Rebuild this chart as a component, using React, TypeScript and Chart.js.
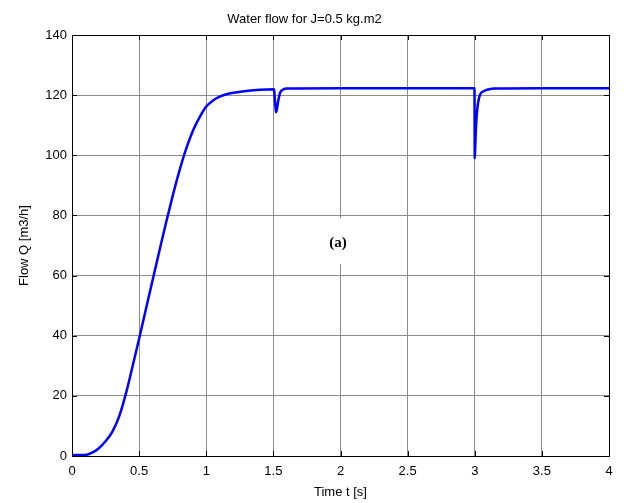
import React, { useEffect, useRef } from "react";
import { Chart, registerables } from "chart.js";

Chart.register(...registerables);

const timeS = [
  0, 0.05, 0.1, 0.15, 0.2, 0.25, 0.3, 0.35, 0.4, 0.45, 0.5, 0.55, 0.6, 0.65, 0.7, 0.75, 0.8, 0.85, 0.9, 0.95,
  1.0, 1.05, 1.1, 1.15, 1.2, 1.3, 1.4, 1.5, 1.505, 1.512, 1.52, 1.527, 1.537, 1.55, 1.575, 1.6, 2.0, 2.5,
  2.998, 3.0, 3.003, 3.008, 3.015, 3.025, 3.04, 3.07, 3.1, 3.15, 3.5, 4.0,
];
const flowQ = [
  0.3, 0.3, 0.35, 1.1, 2.6, 4.9, 8.0, 13.0, 20.5, 29.6, 39.0, 48.7, 58.4, 68.0, 77.5, 86.5, 94.8, 102.1, 108.1, 112.6,
  116.2, 118.2, 119.5, 120.3, 120.8, 121.4, 121.8, 122.0, 121.9, 118, 114.3, 115.5, 118.3, 120.8, 121.9, 122.2, 122.3, 122.3,
  122.3, 99, 102, 108, 113.5, 117.5, 120.2, 121.4, 121.9, 122.2, 122.3, 122.3,
];
const xTickValues = [0, 0.5, 1, 1.5, 2, 2.5, 3, 3.5, 4];
const xTickLabels = ["0", "0.5", "1", "1.5", "2", "2.5", "3", "3.5", "4"];
const yTickValues = [0, 20, 40, 60, 80, 100, 120, 140];
const yTickLabels = ["0", "20", "40", "60", "80", "100", "120", "140"];
const titleText = "Water flow for J=0.5 kg.m2";
const xLabel = "Time t [s]";
const yLabel = "Flow Q [m3/h]";
const annotationText = "(a)";
const annotationPos = { x: 1.981, y: 70.8 };

const FONT = "'Liberation Sans', Arial, sans-serif";

const framePlugin = {
  id: "matlabFrame",
  beforeDatasetsDraw(chart: any) {
    const { ctx, scales } = chart;
    const cx = scales.x.getPixelForValue(annotationPos.x);
    const cy = scales.y.getPixelForValue(annotationPos.y);
    ctx.save();
    ctx.fillStyle = "#ffffff";
    ctx.fillRect(cx - 26, cy - 25, 52, 46);
    ctx.restore();
  },
  afterDatasetsDraw(chart: any) {
    const { ctx, chartArea, scales } = chart;
    const { left, right, top, bottom } = chartArea;
    ctx.save();
    ctx.strokeStyle = "#000000";
    ctx.lineWidth = 1;
    ctx.beginPath();
    const tl = 5;
    xTickValues.forEach((v) => {
      const px = Math.round(scales.x.getPixelForValue(v)) + 0.5;
      ctx.moveTo(px, bottom);
      ctx.lineTo(px, bottom - tl);
      ctx.moveTo(px, top);
      ctx.lineTo(px, top + tl);
    });
    yTickValues.forEach((v) => {
      const py = Math.round(scales.y.getPixelForValue(v)) + 0.5;
      ctx.moveTo(left, py);
      ctx.lineTo(left + tl, py);
      ctx.moveTo(right, py);
      ctx.lineTo(right - tl, py);
    });
    ctx.stroke();
    ctx.strokeRect(Math.round(left) + 0.5, Math.round(top) + 0.5, Math.round(right - left), Math.round(bottom - top));
    const cx = scales.x.getPixelForValue(annotationPos.x);
    const cy = scales.y.getPixelForValue(annotationPos.y);
    ctx.fillStyle = "#000000";
    ctx.font = "bold 15px 'Liberation Serif', 'Times New Roman', serif";
    ctx.textAlign = "center";
    ctx.textBaseline = "middle";
    ctx.fillText(annotationText, cx, cy);
    ctx.restore();
  },
};

export default function App() {
  const ref = useRef<HTMLCanvasElement | null>(null);
  useEffect(() => {
    const canvas = ref.current;
    if (!canvas) return;
    const data = timeS.map((t, i) => ({ x: t, y: flowQ[i] }));
    const tickFont = { family: FONT, size: 13, weight: "normal" as const };
    const chart = new Chart(canvas, {
      type: "line",
      data: {
        datasets: [
          {
            data,
            borderColor: "#0000ff",
            borderWidth: 2.5,
            pointRadius: 0,
            fill: false,
            cubicInterpolationMode: "monotone",
          },
        ],
      },
      options: {
        animation: false,
        responsive: false,
        devicePixelRatio: 1,
        layout: { padding: { left: 0, right: 15, top: 0, bottom: 0 } },
        plugins: {
          legend: { display: false },
          tooltip: { enabled: false },
          title: {
            display: true,
            text: titleText,
            color: "#000000",
            font: { family: FONT, size: 13, weight: "normal" },
            padding: { top: 12, bottom: 7.4 },
          },
        },
        scales: {
          x: {
            type: "linear",
            position: "bottom",
            min: 0,
            max: 4,
            afterBuildTicks: (scale: any) => {
              scale.ticks = xTickValues.map((v) => ({ value: v }));
            },
            afterFit: (scale: any) => {
              scale.height = 47;
            },
            grid: { color: "#8c8c8c", lineWidth: 1, drawTicks: false },
            border: { color: "#000000", width: 1 },
            ticks: {
              color: "#000000",
              font: tickFont,
              padding: 8,
              maxRotation: 0,
              autoSkip: false,
              callback: (v: any) => {
                const i = xTickValues.indexOf(Number(v));
                return i >= 0 ? xTickLabels[i] : "";
              },
            },
            title: {
              display: true,
              text: xLabel,
              color: "#000000",
              font: tickFont,
              padding: { top: 0, bottom: 3 },
            },
          },
          y: {
            type: "linear",
            min: 0,
            max: 140,
            afterBuildTicks: (scale: any) => {
              scale.ticks = yTickValues.map((v) => ({ value: v }));
            },
            afterFit: (scale: any) => {
              scale.width = 72;
            },
            grid: { color: "#8c8c8c", lineWidth: 1, drawTicks: false },
            border: { color: "#000000", width: 1 },
            ticks: {
              color: "#000000",
              font: tickFont,
              padding: 5,
              autoSkip: false,
              callback: (v: any) => {
                const i = yTickValues.indexOf(Number(v));
                return i >= 0 ? yTickLabels[i] : "";
              },
            },
            title: {
              display: true,
              text: yLabel,
              color: "#000000",
              font: tickFont,
              padding: { top: 16.7, bottom: 0 },
            },
          },
        },
      },
      plugins: [framePlugin],
    });
    return () => chart.destroy();
  }, []);
  return (
    <div style={{ position: "fixed", left: 0, top: 0, width: 624, height: 503, background: "#ffffff" }}>
      <canvas ref={ref} width={624} height={503} />
    </div>
  );
}
